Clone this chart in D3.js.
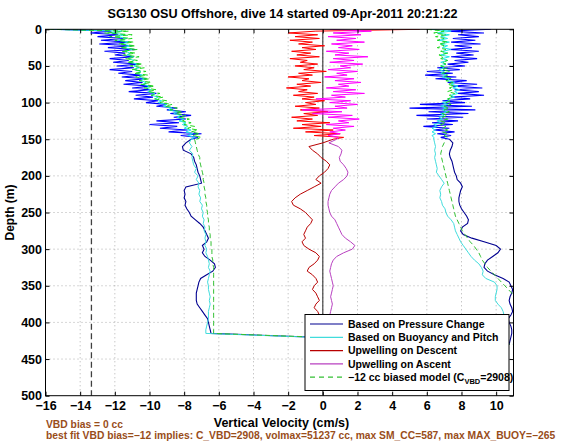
<!DOCTYPE html>
<html><head><meta charset="utf-8">
<script src="https://cdn.jsdelivr.net/npm/d3@7"></script>
<style>
body{margin:0;background:#fff;}
text{font-family:"Liberation Sans",Arial,Helvetica,sans-serif;font-weight:bold;}
</style></head>
<body><svg id="chart" width="566" height="442"></svg>
<script>
// ---------------- DATA ----------------
const titleText = "SG130 OSU Offshore, dive 14 started 09-Apr-2011 20:21:22";
const xTicks = [-16,-14,-12,-10,-8,-6,-4,-2,0,2,4,6,8,10];
const yTicks = [0,50,100,150,200,250,300,350,400,450,500];
const legendLabels = ["Based on Pressure Change","Based on Buoyancy and Pitch","Upwelling on Descent","Upwelling on Ascent","\u221212 cc biased model (C"];
const vbdLine = "VBD bias = 0 cc";
const fitLine = "best fit VBD bias=\u221212 implies: C_VBD=2908, volmax=51237 cc, max SM_CC=587, max MAX_BUOY=\u2212265";
const biasLineX = -13.35;

// depth grids (m)
const nDepth = [0,2.5,5,7.5,10,12.5,15,17.5,20,22.5,25,27.5,30,32.5,35,37.5,40,42.5,45,47.5,50,52.5,55,57.5,60,62.5,65,67.5,70,72.5,75,77.5,80,82.5,85,87.5,90,92.5,95,97.5,100,102.5,105,107.5,110,112.5,115,117.5,120,122.5,125,127.5,130,132.5,135,137.5,140,142.5,145,147.5,150];
const sDepth = [150,155,160,165,170,175,180,185,190,195,200,205,210,215,220,225,230,235,240,245,250,255,260,265,270,275,280,285,290,295,300,305,310,315,320,325,330,335,340,345,350,355,360,365,370,375,380,385,390,395,400,405,410,415,420,425,430];

// Based on Pressure Change
const pressDescN = [-15.6,-12.2,-13.4,-11.8,-13.0,-11.5,-12.8,-11.2,-12.9,-11.0,-12.4,-10.8,-12.6,-11.4,-12.0,-10.9,-12.3,-11.2,-12.1,-10.6,-11.9,-10.9,-12.3,-11.0,-11.8,-10.5,-11.6,-10.2,-11.4,-10.4,-11.5,-9.9,-11.0,-10.0,-11.2,-9.6,-10.8,-9.8,-10.9,-9.5,-10.2,-9.0,-9.6,-8.4,-9.0,-7.9,-8.8,-7.6,-8.6,-7.9,-9.6,-8.3,-10.0,-8.4,-9.4,-7.8,-8.9,-7.0,-8.2,-7.2,-7.6];
const pressDescS = [-7.6,-7.9,-8.1,-8.05,-7.6,-7.45,-7.4,-7.3,-7.25,-7.2,-7.1,-7.05,-7.0,-7.9,-8.0,-7.95,-8.0,-7.9,-7.95,-7.85,-7.7,-7.6,-7.35,-7.1,-6.9,-6.8,-6.7,-6.6,-6.7,-6.95,-6.85,-6.95,-6.8,-6.5,-6.25,-6.2,-6.35,-6.7,-7.05,-7.15,-7.2,-7.25,-7.3,-7.3,-7.3,-7.25,-7.1,-6.95,-6.8,-6.65,-6.6,-6.55,-6.5,-6.45];
const pressAscS = [7.3,7.5,7.45,7.35,7.3,7.35,7.45,7.5,7.55,7.6,7.7,7.75,7.95,8.05,7.95,7.9,7.85,7.85,7.9,8.0,8.15,8.3,8.4,8.35,8.05,7.95,8.1,8.6,9.3,10.0,10.25,10.1,9.8,9.5,9.35,9.3,9.5,9.9,10.4,10.75,10.85,10.95,10.9,10.8,10.75,10.8,10.9,10.95,10.85,10.7,10.75,10.85,10.9,10.9,10.85,10.8,10.75];
const pressAscN = [9.7,7.2,9.3,7.8,9.0,7.5,8.8,7.4,9.1,7.6,8.6,7.3,9.0,7.7,8.7,7.4,8.9,7.6,8.4,7.2,8.2,6.6,7.9,6.0,7.5,5.9,7.7,6.5,8.3,7.2,8.9,7.5,9.2,7.6,9.0,7.8,9.3,7.4,8.5,6.9,8.2,5.6,8.6,5.0,8.8,6.1,8.4,5.4,8.1,6.0,7.8,6.3,7.5,5.8,7.3,6.4,7.6,6.6,7.4,6.8,7.3];

// Based on Buoyancy and Pitch
const buoyDescN = [-15.7,-11.6,-12.2,-11.4,-11.9,-11.3,-11.8,-11.2,-11.6,-11.1,-11.5,-11.0,-11.4,-11.1,-11.3,-10.9,-11.2,-10.9,-11.1,-10.7,-10.9,-10.6,-10.9,-10.5,-10.7,-10.4,-10.6,-10.3,-10.5,-10.2,-10.4,-10.0,-10.2,-9.9,-10.1,-9.7,-9.9,-9.5,-9.7,-9.3,-9.5,-9.0,-9.2,-8.7,-8.9,-8.4,-8.6,-8.2,-8.4,-8.0,-8.3,-7.9,-8.1,-7.8,-8.0,-7.6,-7.9,-7.5,-7.8,-7.4,-7.6];
const buoyDescS = [-7.6,-7.7,-7.55,-7.7,-7.5,-7.55,-7.5,-7.45,-7.3,-7.4,-7.2,-7.3,-7.15,-7.2,-7.1,-7.15,-7.05,-7.1,-6.95,-7.0,-6.9,-6.95,-6.85,-6.9,-6.8,-6.85,-6.75,-6.8,-6.75,-6.8,-6.7,-6.75,-6.65,-6.6,-6.55,-6.6,-6.5,-6.55,-6.6,-6.65,-6.6,-6.6,-6.55,-6.5,-6.55,-6.5,-6.55,-6.6,-6.6,-6.6,-6.65,-6.7,-6.75,-6.75];
const buoyAscS = [6.4,6.45,6.5,6.45,6.5,6.45,6.5,6.55,6.6,6.55,6.7,6.85,7.0,6.85,6.75,6.8,6.75,6.85,6.9,7.05,7.1,7.2,7.4,7.55,7.6,7.65,7.75,7.85,7.95,8.1,8.25,8.4,8.55,8.75,9.0,9.15,9.25,9.2,9.4,9.9,10.05,10.05,10.0,9.95,9.95,10.1,10.3,10.4,10.45,10.5,10.55,10.6,10.65,10.7,10.7,10.7,10.7];
const buoyAscN = [6.2,7.4,6.6,7.3,6.8,7.2,6.7,7.3,6.8,7.2,6.9,7.4,6.9,7.2,6.8,7.3,6.9,7.2,6.8,7.1,6.8,7.0,6.7,7.0,6.8,7.1,6.9,7.3,7.2,7.6,7.4,7.8,7.5,7.9,7.6,7.8,7.4,7.6,7.2,7.3,6.9,7.2,6.8,7.1,6.9,7.2,6.8,7.0,6.7,6.9,6.6,6.8,6.4,6.6,6.3,6.5,6.3,6.5,6.3,6.4,6.4];

// Upwelling on Descent / Ascent
const upDescN = [5.6,-0.4,-2.0,-0.3,-1.6,-0.2,-1.9,-0.6,-1.4,0.1,-1.2,-0.4,-1.8,-0.7,-1.5,-0.2,-1.9,-0.9,-1.3,-0.3,-1.6,-0.5,-1.1,0.2,-1.4,-0.6,-2.0,-0.8,-1.2,-0.1,-1.5,-0.7,-2.1,-0.9,-1.4,-0.3,-1.7,-0.5,-1.2,0.1,-1.0,-0.4,-1.6,-0.2,-1.3,0.3,-1.1,-0.3,-1.8,-0.6,-1.5,0.4,-1.2,-0.1,-1.7,0.6,-1.0,1.0,-0.5,1.2,0.6];
const upDescS = [0.6,0.0,-0.8,-0.6,-0.3,-0.1,0.2,0.4,0.3,0.1,-0.2,-0.4,-0.1,-0.5,-0.9,-1.3,-1.6,-1.8,-1.7,-1.3,-1.0,-0.8,-0.6,-0.7,-0.9,-1.0,-1.1,-1.0,-1.2,-1.1,-0.8,-0.4,-0.2,-0.3,-0.5,-0.8,-0.9,-0.6,-0.4,-0.3,-0.5,-0.6,-0.4,-0.3,-0.2,-0.4,-0.5,-0.3,-0.2,-0.3,-0.2,-0.1,-0.2,-0.2];
const upAscS = [0.8,0.35,0.9,1.1,1.05,0.95,1.0,1.2,1.35,1.45,1.4,1.2,0.9,0.7,0.5,0.4,0.35,0.3,0.3,0.35,0.4,0.5,0.7,0.8,0.9,1.0,1.1,1.3,1.6,1.85,1.7,1.2,0.8,0.6,0.5,0.45,0.4,0.45,0.5,0.55,0.6,0.55,0.5,0.45,0.5,0.55,0.5,0.45,0.4,0.35,0.3,0.3,0.25,0.2,0.2,0.2,0.2];
const upAscN = [0.4,2.8,0.6,2.2,0.3,1.9,0.8,2.4,0.5,1.7,0.9,2.1,0.2,1.5,0.7,2.6,0.6,1.8,0.4,2.3,1.0,1.6,0.3,2.0,0.8,1.4,0.1,1.8,0.7,2.2,0.9,1.5,0.2,1.9,0.6,2.4,0.5,1.3,-0.4,1.6,0.4,2.0,0.7,1.4,-1.2,1.1,-0.6,1.7,0.3,2.1,0.9,1.5,0.2,1.8,0.6,1.3,0.4,1.0,0.3,0.9,0.8];

// -12 cc biased model
const modelDescN = [-15.8,-11.2,-12.6,-11.0,-12.3,-11.0,-12.0,-10.9,-11.8,-10.8,-11.7,-10.7,-11.6,-10.8,-11.5,-10.6,-11.4,-10.7,-11.3,-10.4,-11.1,-10.3,-11.0,-10.2,-10.9,-10.1,-10.8,-10.0,-10.6,-9.9,-10.5,-9.7,-10.3,-9.6,-10.1,-9.4,-9.9,-9.2,-9.7,-9.0,-9.4,-8.7,-9.1,-8.4,-8.8,-8.1,-8.5,-7.9,-8.3,-7.7,-8.1,-7.6,-8.0,-7.4,-7.8,-7.2,-7.6,-7.1,-7.5,-7.0,-7.3];
const modelDescS = [-7.4,-7.35,-7.3,-7.25,-7.2,-7.1,-7.1,-7.05,-7.0,-6.95,-6.9,-6.9,-6.85,-6.85,-6.8,-6.8,-6.75,-6.75,-6.7,-6.7,-6.65,-6.65,-6.6,-6.6,-6.55,-6.55,-6.5,-6.5,-6.45,-6.45,-6.4,-6.4,-6.4,-6.35,-6.35,-6.3,-6.3,-6.3,-6.3,-6.3,-6.3,-6.3,-6.3,-6.3,-6.3,-6.3,-6.3,-6.3,-6.3,-6.3,-6.3,-6.3,-6.3,-6.3];
const modelAscS = [7.1,7.0,6.9,6.85,6.8,6.85,6.9,6.95,7.0,7.05,7.1,7.15,7.2,7.25,7.3,7.35,7.4,7.45,7.5,7.55,7.6,7.65,7.75,7.85,7.95,8.05,8.2,8.35,8.5,8.7,8.85,9.0,9.1,9.2,9.35,9.5,9.7,9.9,10.1,10.3,10.5,10.7,10.9,11.05,11.15,11.2,11.2,11.2,11.2,11.2,11.2,11.2,11.2,11.2,11.2,11.2,11.2];
const modelAscN = [6.0,7.0,6.4,7.1,6.5,7.0,6.6,7.2,6.7,7.0,6.6,7.1,6.8,7.2,6.7,7.0,6.8,7.2,6.9,7.1,6.8,7.2,6.9,7.3,6.9,7.2,7.0,7.4,7.1,7.5,7.2,7.6,7.3,7.5,7.2,7.6,7.3,7.5,7.2,7.4,7.1,7.4,7.0,7.3,7.0,7.3,6.9,7.2,6.9,7.2,6.8,7.1,6.8,7.1,6.9,7.2,6.9,7.2,7.0,7.2,7.1];

// ---------------- CHART ----------------
const svg = d3.select("#chart");
const L = 45.5, R = 513.5, T = 29.3, B = 395.7;
const x = d3.scaleLinear().domain([-16, 11]).range([L, R]);
const y = d3.scaleLinear().domain([0, 500]).range([T, B]);

svg.append("defs").append("clipPath").attr("id","clip")
  .append("rect").attr("x",L).attr("y",T).attr("width",R-L).attr("height",B-T);

// grid
const grid = svg.append("g");
xTicks.filter(t => t > -16).forEach(t => grid.append("line")
  .attr("x1",x(t)).attr("x2",x(t)).attr("y1",T).attr("y2",B)
  .attr("stroke","#9a9a9a").attr("stroke-width",0.8).attr("stroke-dasharray","1,3"));
yTicks.filter(t => t > 0 && t < 500).forEach(t => grid.append("line")
  .attr("x1",L).attr("x2",R).attr("y1",y(t)).attr("y2",y(t))
  .attr("stroke","#9a9a9a").attr("stroke-width",0.8).attr("stroke-dasharray","1,3"));

const zip = (ds, vs) => vs.map((v,i) => ({d: ds[i], v: v}));
const line = d3.line().x(p => x(p.v)).y(p => y(p.d));
const plot = svg.append("g").attr("clip-path","url(#clip)");

// reference lines
plot.append("line").attr("x1",x(biasLineX)).attr("x2",x(biasLineX)).attr("y1",T).attr("y2",B)
  .attr("stroke","#404040").attr("stroke-width",1.3).attr("stroke-dasharray","6,3.5");
plot.append("line").attr("x1",x(0)).attr("x2",x(0)).attr("y1",T).attr("y2",B)
  .attr("stroke","#202020").attr("stroke-width",1);

function drawSeries(descN, descS, ascS, ascN, cN, cS, dash, w) {
  const g = plot.append("g").attr("fill","none").attr("stroke-width", w||1);
  if (dash) g.attr("stroke-dasharray", dash);
  if (descN) g.append("path").attr("d", line(zip(nDepth, descN))).attr("stroke", cN);
  if (ascN) g.append("path").attr("d", line(zip(nDepth, ascN))).attr("stroke", cN);
  let s = [];
  if (descS) s = s.concat(zip(sDepth, descS));
  if (ascS) s = s.concat(zip(sDepth, ascS).reverse());
  g.append("path").attr("d", line(s)).attr("stroke", cS);
}
const colors = {
  press: ["#0000FF", "#000090"],
  buoy: ["#22E6E6", "#40DCDC"],
  upD: ["#FF0000", "#B80000"],
  upA: ["#FF00FF", "#B840C0"],
  model: ["#1ED81E", "#33C033"]
};
drawSeries(pressDescN, pressDescS, pressAscS, pressAscN, colors.press[0], colors.press[1], null, 1.1);
drawSeries(buoyDescN, buoyDescS, buoyAscS, buoyAscN, colors.buoy[0], colors.buoy[1]);
drawSeries(upDescN, upDescS, null, null, colors.upD[0], colors.upD[1]);
drawSeries(null, null, upAscS, upAscN, colors.upA[0], colors.upA[1]);
drawSeries(modelDescN, modelDescS, modelAscS, modelAscN, colors.model[0], colors.model[1], "5,3");

// axes
const fmt = d => String(d).replace("-", "\u2212");
const ax = svg.append("g");
ax.append("g").attr("transform",`translate(0,${B})`)
  .call(d3.axisBottom(x).tickValues(xTicks).tickSize(-4).tickPadding(5.5).tickFormat(fmt));
ax.append("g").attr("transform",`translate(${L},0)`)
  .call(d3.axisLeft(y).tickValues(yTicks).tickSize(-4).tickPadding(3.5));
ax.append("g").attr("transform",`translate(0,${T})`)
  .call(d3.axisTop(x).tickValues(xTicks).tickSize(-4).tickFormat(""));
ax.append("g").attr("transform",`translate(${R},0)`)
  .call(d3.axisRight(y).tickValues(yTicks).tickSize(-4).tickFormat(""));
ax.selectAll(".domain").remove();
ax.selectAll(".tick line").attr("stroke","#000");
ax.selectAll("text").attr("font-size",12.5).attr("font-family",null).attr("fill","#000");
svg.append("rect").attr("x",L).attr("y",T).attr("width",R-L).attr("height",B-T)
  .attr("fill","none").attr("stroke","#000").attr("stroke-width",1);

// titles
svg.append("text").attr("x",(L+R)/2+3).attr("y",18).attr("text-anchor","middle")
  .attr("font-size",12.6).text(titleText);
svg.append("text").attr("transform",`translate(14,${(T+B)/2}) rotate(-90)`)
  .attr("text-anchor","middle").attr("font-size",12).text("Depth (m)");
svg.append("text").attr("x",(L+R)/2+2).attr("y",426.5).attr("text-anchor","middle")
  .attr("font-size",12.5).text("Vertical Velocity (cm/s)");
svg.append("text").attr("x",46).attr("y",427.5).attr("font-size",10.3).attr("fill","#994D1A").text(vbdLine);
svg.append("text").attr("x",46).attr("y",438.5).attr("font-size",10.3).attr("fill","#994D1A").text(fitLine);

// legend
const lg = svg.append("g");
lg.append("rect").attr("x",305).attr("y",314.5).attr("width",204).attr("height",76)
  .attr("fill","#fff").attr("stroke","#000").attr("stroke-width",1);
const rowsY = [324, 337.3, 350.6, 363.9, 377.2];
const legendStyle = [
  {c: colors.press[1], dash: null},
  {c: colors.buoy[1], dash: null},
  {c: colors.upD[1], dash: null},
  {c: colors.upA[1], dash: null},
  {c: colors.model[1], dash: "5,4"}
];
legendLabels.forEach((lab, i) => {
  lg.append("line").attr("x1",310).attr("x2",343).attr("y1",rowsY[i]).attr("y2",rowsY[i])
    .attr("stroke",legendStyle[i].c).attr("stroke-width",1.2)
    .attr("stroke-dasharray",legendStyle[i].dash);
  const t = lg.append("text").attr("x",348).attr("y",rowsY[i]+3.7).attr("font-size",10.5).text(lab);
  if (i === 4) {
    t.append("tspan").attr("dy",3).attr("font-size",7.5).text("VBD");
    t.append("tspan").attr("dy",-3).attr("font-size",10.5).text("=2908)");
  }
});
</script></body></html>
